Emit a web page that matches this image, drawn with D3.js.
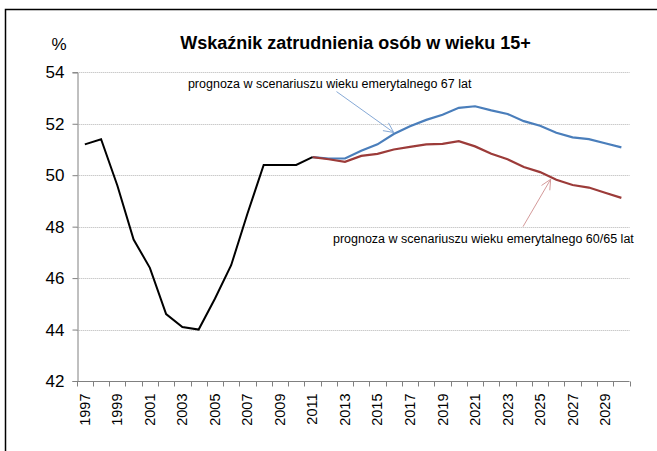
<!DOCTYPE html>
<html>
<head>
<meta charset="utf-8">
<script src="https://cdn.jsdelivr.net/npm/d3@7"></script>
<style>
  body { margin: 0; background: #fff; }
  text { font-family: "Liberation Sans", Arial, sans-serif; }
</style>
</head>
<body>
<div id="chart"></div>
<script>
// data
var years = d3.range(1997, 2031);
var yearLabels = years.filter(function (y) { return y % 2 === 1; });

var historyYears = d3.range(1997, 2012);
var historyValues = [51.2, 51.4, 49.6, 47.5, 46.4, 44.6, 44.1, 44.0, 45.2, 46.5, 48.5, 50.4, 50.4, 50.4, 50.7];

var forecastYears = d3.range(2011, 2031);
var forecast67 = [50.7, 50.65, 50.65, 50.95, 51.2, 51.6, 51.9, 52.15, 52.35, 52.62, 52.68, 52.52, 52.38, 52.1, 51.92, 51.65, 51.47, 51.4, 51.24, 51.08];
var forecast6065 = [50.7, 50.62, 50.52, 50.75, 50.83, 51.0, 51.1, 51.2, 51.22, 51.32, 51.12, 50.83, 50.62, 50.32, 50.12, 49.82, 49.62, 49.52, 49.32, 49.12];

var yTicks = [42, 44, 46, 48, 50, 52, 54];

// annotations: text anchor (year index, value) and arrow from/to
var notes = [
    { text: "prognoza w scenariuszu wieku emerytalnego 67 lat", tx: 6.84, ty: 53.39,
      from: [15.98, 53.25], to: [19.5, 51.66], color: "#86a9d6" },
    { text: "prognoza w scenariuszu wieku emerytalnego 60/65 lat", tx: 15.76, ty: 47.37,
      from: [27.45, 48.0], to: [29.15, 49.84], color: "#d49a9a" }
];

var width = 657, height = 451;

var svg = d3.select("#chart").append("svg")
    .attr("width", width)
    .attr("height", height);

// outer frame
svg.append("rect")
    .attr("x", 5.5).attr("y", 9.5)
    .attr("width", 800).attr("height", 600)
    .attr("fill", "none")
    .attr("stroke", "#000")
    .attr("stroke-width", 1.5);

var plotLeft = 76.7, plotRight = 629.5, plotTop = 72.3, plotBottom = 381;

var x = d3.scaleBand().domain(years).range([plotLeft, plotRight]);
var y = d3.scaleLinear().domain([42, 54]).range([plotBottom, plotTop]);
var xi = d3.scaleLinear().domain([0, years.length]).range([plotLeft, plotRight]);

function cx(yr) { return x(yr) + x.bandwidth() / 2; }

// gridlines
svg.append("g")
    .selectAll("line")
    .data(yTicks.filter(function (d) { return d > 42; }))
    .enter().append("line")
    .attr("x1", plotLeft).attr("x2", plotRight)
    .attr("y1", function (d) { return Math.round(y(d)) + 0.5; })
    .attr("y2", function (d) { return Math.round(y(d)) + 0.5; })
    .attr("stroke", "#b4b4b4")
    .attr("stroke-dasharray", "1,1");

// y axis
var yAxis = svg.append("g")
    .attr("transform", "translate(" + (Math.round(plotLeft) + 0.5) + ",0)")
    .call(d3.axisLeft(y).tickValues(yTicks).tickSize(5).tickPadding(8));
yAxis.selectAll("text")
    .style("font-family", "'Liberation Sans', Arial, sans-serif")
    .style("font-size", "17px")
    .attr("fill", "#000");
yAxis.select(".domain").attr("stroke", "#808080");
yAxis.selectAll(".tick line").attr("stroke", "#808080");

// x axis with ticks between categories
var xAxisG = svg.append("g")
    .attr("transform", "translate(0," + (Math.round(plotBottom) + 0.5) + ")");
xAxisG.append("line")
    .attr("x1", plotLeft).attr("x2", plotRight)
    .attr("stroke", "#808080");
xAxisG.selectAll(".tk")
    .data(d3.range(0, years.length + 1))
    .enter().append("line")
    .attr("class", "tk")
    .attr("x1", function (i) { return Math.round(xi(i)) + 0.5; })
    .attr("x2", function (i) { return Math.round(xi(i)) + 0.5; })
    .attr("y1", 0).attr("y2", 5)
    .attr("stroke", "#808080");
xAxisG.selectAll(".lbl")
    .data(yearLabels)
    .enter().append("text")
    .attr("class", "lbl")
    .attr("transform", function (d) { return "translate(" + (cx(d) + 5) + ",12) rotate(-90)"; })
    .attr("text-anchor", "end")
    .style("font-size", "14.5px")
    .text(function (d) { return d; });

// lines
var line = d3.line()
    .x(function (d) { return cx(d[0]); })
    .y(function (d) { return y(d[1]); });

svg.append("path")
    .datum(d3.zip(forecastYears, forecast67))
    .attr("fill", "none")
    .attr("stroke", "#4a7ebb")
    .attr("stroke-width", 2.2)
    .attr("d", line);

svg.append("path")
    .datum(d3.zip(forecastYears, forecast6065))
    .attr("fill", "none")
    .attr("stroke", "#9c3b39")
    .attr("stroke-width", 2.2)
    .attr("d", line);

svg.append("path")
    .datum(d3.zip(historyYears, historyValues))
    .attr("fill", "none")
    .attr("stroke", "#000")
    .attr("stroke-width", 2)
    .attr("d", line);

// annotations
notes.forEach(function (n) {
    var fx = xi(n.from[0]), fy = y(n.from[1]);
    var tx = xi(n.to[0]), ty = y(n.to[1]);
    var ang = Math.atan2(ty - fy, tx - fx);
    svg.append("line")
        .attr("x1", fx).attr("y1", fy)
        .attr("x2", tx).attr("y2", ty)
        .attr("stroke", n.color)
        .attr("stroke-width", 1);
    var len = 11, spread = 0.45;
    var pts = [
        [tx - len * Math.cos(ang - spread), ty - len * Math.sin(ang - spread)],
        [tx, ty],
        [tx - len * Math.cos(ang + spread), ty - len * Math.sin(ang + spread)]
    ];
    svg.append("path")
        .attr("d", d3.line()(pts))
        .attr("fill", "none")
        .attr("stroke", n.color)
        .attr("stroke-width", 1);
    svg.append("text")
        .attr("x", xi(n.tx)).attr("y", y(n.ty))
        .style("font-size", "12.5px")
        .attr("fill", "#000")
        .text(n.text);
});

// title and unit
svg.append("text")
    .attr("x", 355.5).attr("y", 49)
    .attr("text-anchor", "middle")
    .style("font-size", "18px")
    .style("font-weight", "bold")
    .text("Wskaźnik zatrudnienia osób w wieku 15+");

svg.append("text")
    .attr("x", 59).attr("y", 50)
    .attr("text-anchor", "middle")
    .style("font-size", "17px")
    .text("%");
</script>
</body>
</html>
